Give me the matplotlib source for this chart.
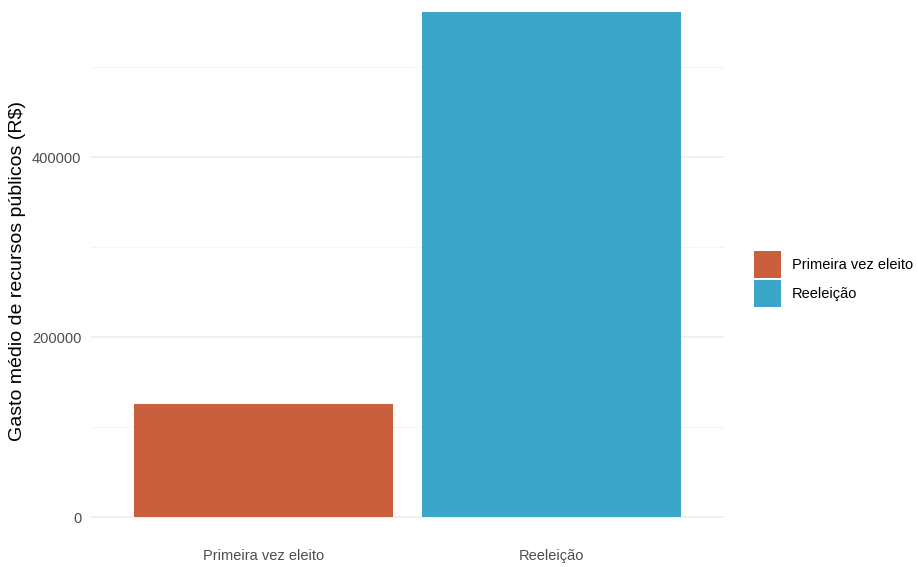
import matplotlib.pyplot as plt
import numpy as np

plt.rcParams['font.family'] = ['Liberation Sans', 'DejaVu Sans']

# gasto medio por situacao do candidato
categorias = ['Primeira vez eleito', 'Reeleição']
gasto_medio = [125900, 561100]
cores = ['#C95F3C', '#3CA6C9']

W, H = 918, 567
fig = plt.figure(figsize=(W / 100, H / 100), dpi=100)

# painel em pixels: x de 91 a 724, y de 0 a 542
left, right, top, bottom = 91, 724, 0, 542
ax = fig.add_axes([left / W, 1 - bottom / H, (right - left) / W, (bottom - top) / H])

x = np.arange(1, len(categorias) + 1)
barras = ax.bar(x, gasto_medio, width=0.9, color=cores, label=categorias, zorder=2)

# escala como no ggplot (expansao de 0.6 nos discretos)
ax.set_xlim(0.4, 2.6)
px_por_unidade = 180 / 200000
ax.set_ylim(-25 / px_por_unidade, 517.3 / px_por_unidade)

ax.set_yticks([0, 200000, 400000])
ax.set_yticklabels(['0', '200000', '400000'])
ax.set_yticks([100000, 300000, 500000], minor=True)
ax.set_xticks(x)
ax.set_xticklabels(categorias)

ax.grid(axis='y', which='major', color='#EBEBEB', linewidth=1.1, zorder=0)
ax.grid(axis='y', which='minor', color='#F3F3F3', linewidth=0.6, zorder=0)
ax.set_axisbelow(True)
for s in ax.spines.values():
    s.set_visible(False)
ax.tick_params(axis='both', which='both', length=0, labelsize=10.5, labelcolor='#4D4D4D')
ax.tick_params(axis='y', pad=7)
ax.tick_params(axis='x', pad=5)

ax.set_ylabel('Gasto médio de recursos públicos (R$)', fontsize=14, labelpad=4)

fig.legend(handles=list(barras), labels=categorias, loc='center left',
           bbox_to_anchor=(748 / W, 1 - 279 / H), frameon=False,
           fontsize=10.5, handlelength=1.85, handleheight=2.5,
           labelspacing=0.1, handletextpad=0.75, borderaxespad=0)

fig.savefig('out.png', dpi=100)
